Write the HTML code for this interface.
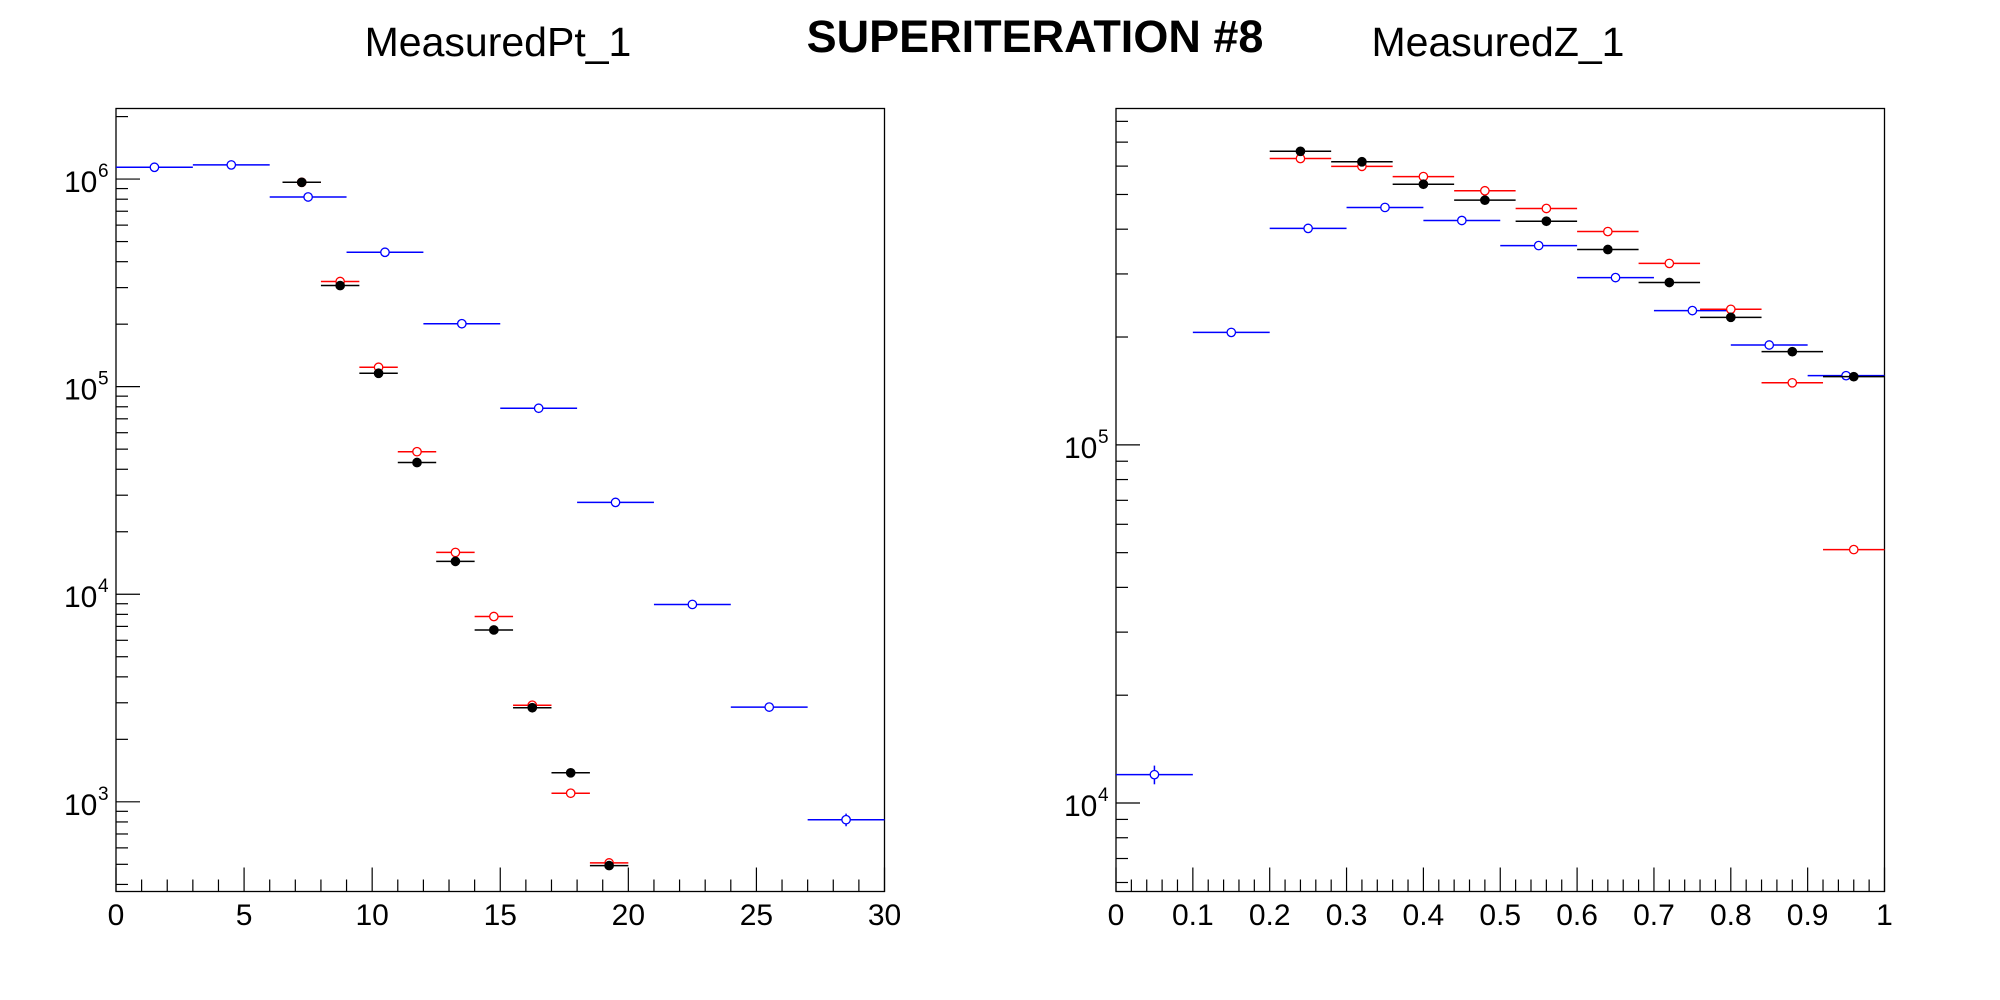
<!DOCTYPE html>
<html><head><meta charset="utf-8"><style>
html,body{margin:0;padding:0;background:#fff;}
svg{display:block;font-family:"Liberation Sans",sans-serif;}
</style></head><body>
<svg id="c" width="2000" height="1000" xmlns="http://www.w3.org/2000/svg">
<rect width="2000" height="1000" fill="#fff"/>
<text x="498" y="56" font-size="41" text-anchor="middle">MeasuredPt_1</text>
<text x="1035" y="52" font-size="45" font-weight="bold" text-anchor="middle">SUPERITERATION #8</text>
<text x="1498" y="56" font-size="41" text-anchor="middle">MeasuredZ_1</text>
</svg>
<script>
// ---- Left panel data (pT) ----
const ptBlueCenters=[1.5,4.5,7.5,10.5,13.5,16.5,19.5,22.5,25.5,28.5];
const ptBlueVals=[1.14e6,1.17e6,8.2e5,4.44e5,2.01e5,7.87e4,2.77e4,8.93e3,2.86e3,820];
const ptFineCenters=[7.25,8.75,10.25,11.75,13.25,14.75,16.25,17.75,19.25];
const ptBlackVals=[9.65e5,3.07e5,1.16e5,4.31e4,1.44e4,6.73e3,2.84e3,1.38e3,493];
const ptRedVals=[9.65e5,3.21e5,1.24e5,4.86e4,1.59e4,7.81e3,2.92e3,1.10e3,508];
const ptXTicks=[0,5,10,15,20,25,30];
const ptYDecades=[3,4,5,6];
// ---- Right panel data (z) ----
const zBlueCenters=[0.05,0.15,0.25,0.35,0.45,0.55,0.65,0.75,0.85,0.95];
const zBlueVals=[1.2e4,2.06e5,4.02e5,4.6e5,4.23e5,3.6e5,2.93e5,2.37e5,1.9e5,1.56e5];
const zFineCenters=[0.24,0.32,0.40,0.48,0.56,0.64,0.72,0.80,0.88,0.96];
const zBlackVals=[6.6e5,6.17e5,5.34e5,4.82e5,4.21e5,3.51e5,2.84e5,2.27e5,1.82e5,1.55e5];
const zRedVals=[6.3e5,5.99e5,5.61e5,5.12e5,4.57e5,3.94e5,3.21e5,2.39e5,1.49e5,5.1e4];
const zXTicks=[0,0.1,0.2,0.3,0.4,0.5,0.6,0.7,0.8,0.9,1];
const zYDecades=[4,5];

const svg=document.getElementById('c');
const NS='http://www.w3.org/2000/svg';
function mk(tag,attrs,parent){const e=document.createElementNS(NS,tag);for(const k in attrs)e.setAttribute(k,attrs[k]);(parent||svg).appendChild(e);return e;}

function panel(cfg){
  const {x0,x1,y0,y1,xmin,xmax,lmin,lmax,name}=cfg;
  const g=mk('g',{});
  
  
  const X=v=>x0+(v-xmin)/(xmax-xmin)*(x1-x0);
  const Y=v=>y1-(Math.log10(v)-lmin)/(lmax-lmin)*(y1-y0);
  const fr=mk('rect',{x:x0,y:y0,width:x1-x0,height:y1-y0,fill:'none',stroke:'#000','stroke-width':1.3},g);
  
  
  const xt=cfg.xTicks;
  for(let i=0;i<xt.length;i++){
    const px=X(xt[i]);
    mk('line',{x1:px,x2:px,y1:y1,y2:y1-24,stroke:'#000','stroke-width':1.2},g);
    const t=mk('text',{x:px,y:925,'font-size':30,'text-anchor':'middle'},g);
    t.textContent=String(xt[i]);
    
    
    if(i<xt.length-1){
      const step=(xt[i+1]-xt[i])/cfg.xMinorN;
      for(let j=1;j<cfg.xMinorN;j++){const mx=X(xt[i]+j*step);mk('line',{x1:mx,x2:mx,y1:y1,y2:y1-12,stroke:'#000','stroke-width':1.2},g);}
    }
  }
  for(let d=Math.floor(lmin);d<=Math.ceil(lmax);d++){
    for(let m=1;m<10;m++){
      const v=m*Math.pow(10,d);const lv=Math.log10(v);
      if(lv<lmin||lv>lmax)continue;
      const py=Y(v);
      mk('line',{x1:x0,x2:x0+(m===1?24:12),y1:py,y2:py,stroke:'#000','stroke-width':1.2},g);
    }
  }
  cfg.yDecades.forEach(d=>{
    const py=Y(Math.pow(10,d));
    const t=mk('text',{x:x0-52,y:py+13,'font-size':30,'text-anchor':'start'},g);
    t.textContent='10';
    
    
    const s=mk('text',{x:x0-18,y:py-2,'font-size':19,'text-anchor':'start'},g);
    s.textContent=String(d);
  });
  cfg.series.forEach(s=>{
    const sg=mk('g',{},g);
    
    
    s.centers.forEach((c,i)=>{
      const v=s.vals[i];const px=X(c),py=Y(v);
      const xa=X(Math.max(xmin,c-s.hw)),xb=X(Math.min(xmax,c+s.hw));
      mk('line',{x1:xa,x2:xb,y1:py,y2:py,stroke:s.color,'stroke-width':1.5},sg);
      if(s.err&&s.err[i]){mk('line',{x1:px,x2:px,y1:Y(v*(1+s.err[i])),y2:Y(v*(1-s.err[i])),stroke:s.color,'stroke-width':1.5},sg);}
      const c2=mk('circle',{cx:px,cy:py,r:4.2,fill:s.filled?s.color:'#fff',stroke:s.color,'stroke-width':1.3},sg);
      
      
    });
  });
}

panel({name:'pt-panel',x0:116,x1:884.5,y0:108.5,y1:891.5,xmin:0,xmax:30,lmin:2.568,lmax:6.34,
  xTicks:ptXTicks,xMinorN:5,yDecades:ptYDecades,
  series:[
    {name:'pt-blue-series',centers:ptBlueCenters,vals:ptBlueVals,hw:1.5,color:'#0000ff',filled:false,err:[0,0,0,0,0,0,0,0,0,0.07]},
    {name:'pt-red-series',centers:ptFineCenters,vals:ptRedVals,hw:0.75,color:'#ff0000',filled:false},
    {name:'pt-black-series',centers:ptFineCenters,vals:ptBlackVals,hw:0.75,color:'#000',filled:true}
  ]});
panel({name:'z-panel',x0:1116,x1:1884.5,y0:108.5,y1:891.5,xmin:0,xmax:1,lmin:3.753,lmax:5.939,
  xTicks:zXTicks,xMinorN:5,yDecades:zYDecades,
  series:[
    {name:'z-blue-series',centers:zBlueCenters,vals:zBlueVals,hw:0.05,color:'#0000ff',filled:false,err:[0.06,0,0,0,0,0,0,0,0,0]},
    {name:'z-red-series',centers:zFineCenters,vals:zRedVals,hw:0.04,color:'#ff0000',filled:false},
    {name:'z-black-series',centers:zFineCenters,vals:zBlackVals,hw:0.04,color:'#000',filled:true}
  ]});
</script>
</body></html>
